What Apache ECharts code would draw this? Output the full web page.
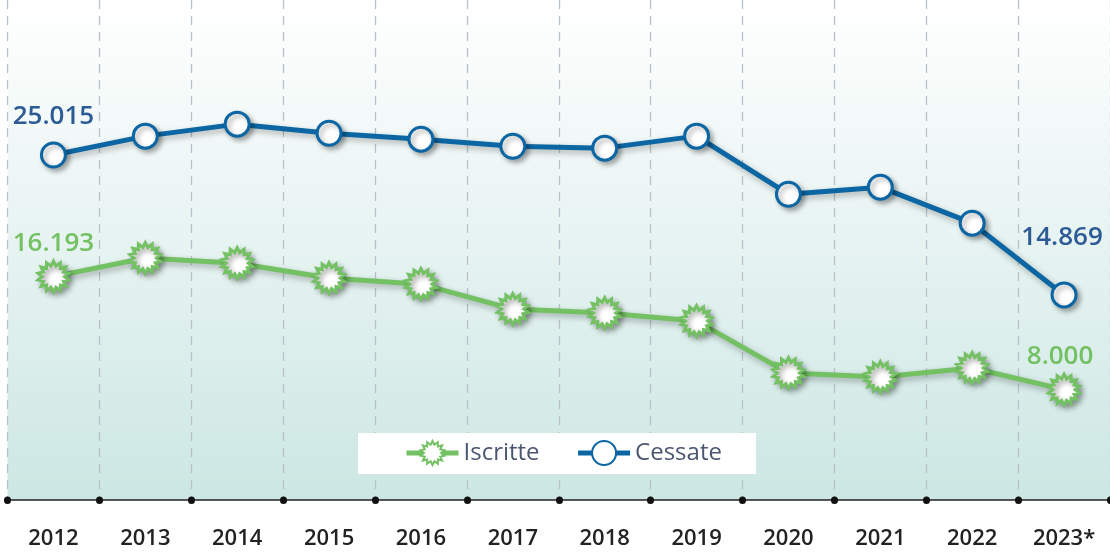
<!DOCTYPE html>
<html>
<head>
<meta charset="utf-8">
<script src="https://cdn.jsdelivr.net/npm/echarts@6/dist/echarts.min.js"></script>
<style>
  html, body { margin: 0; padding: 0; background: #fff; }
  #chart { width: 1110px; height: 552px; }
</style>
</head>
<body>
<div id="chart"></div>
<script>
// anni
const years = ['2012', '2013', '2014', '2015', '2016', '2017', '2018', '2019', '2020', '2021', '2022', '2023*']
// imprese iscritte
const iscritte = [16193, 17540, 17170, 16090, 15650, 13840, 13550, 12970, 9200, 8910, 9570, 8000]
// imprese cessate
const cessate = [25015, 26380, 27250, 26590, 26160, 25650, 25510, 26380, 22170, 22680, 20070, 14869]

const BLUE = '#0b66a3'
const GREEN = '#73c163'

// stella a punte per il simbolo "Iscritte"
function starPath(points, outer, inner) {
    let d = ''
    for (let i = 0; i < points * 2; i++) {
        const r = i % 2 === 0 ? outer : inner
        const a = Math.PI * i / points - Math.PI / 2
        d += (i === 0 ? 'M' : 'L') + (r * Math.cos(a)).toFixed(2) + ',' + (r * Math.sin(a)).toFixed(2)
    }
    return 'path://' + d + 'Z'
}
const STAR = starPath(14, 50, 35)

// separatore delle migliaia con il punto
const fmt = v => String(v).replace(/\B(?=(\d{3})+(?!\d))/g, '.')

// etichette solo sul primo e ultimo punto
function withLabels(values, color, first, last) {
    return values.map((v, i) => {
        if (i === 0) return { value: v, label: Object.assign({ show: true, color: color }, first) }
        if (i === values.length - 1) return { value: v, label: Object.assign({ show: true, color: color }, last) }
        return v
    })
}

const chart = echarts.init(document.getElementById('chart'))
const option = {
    animation: false,
    textStyle: { fontFamily: 'Open Sans' },
    grid: {
        left: 7.5, right: -5.5, top: 0, bottom: 52,
        show: true,
        borderWidth: 0,
        backgroundColor: new echarts.graphic.LinearGradient(0, 0, 0, 1, [
            { offset: 0, color: '#ffffff' },
            { offset: 1, color: '#cce7e3' }
        ])
    },
    legend: {
        left: 358, top: 433,
        backgroundColor: '#ffffff',
        padding: [7, 34, 8, 46],
        itemWidth: 52, itemHeight: 30, itemGap: 36,
        lineStyle: { width: 5 },
        textStyle: { fontSize: 24, color: '#4b5670', fontFamily: 'Open Sans' },
        data: ['Iscritte', 'Cessate']
    },
    xAxis: {
        type: 'category',
        data: years,
        boundaryGap: true,
        axisLine: { lineStyle: { color: '#222', width: 1.5 } },
        axisTick: { show: true, interval: 0, length: 0.5, lineStyle: { color: '#111', width: 7, cap: 'round' } },
        axisLabel: { interval: 0, margin: 28, fontSize: 22, fontWeight: 600, color: '#222' },
        splitLine: { show: true, interval: 0, lineStyle: { color: '#b9c1c8', width: 1.3, type: [9, 7] } }
    },
    yAxis: {
        type: 'value',
        min: 0, max: 36250,
        show: false,
        splitLine: { show: false }
    },
    series: [
        {
            name: 'Iscritte',
            type: 'line',
            data: withLabels(iscritte, GREEN,
                { position: 'top', distance: 3 },
                { position: 'top', distance: 3, offset: [-4, 0] }),
            symbol: STAR,
            symbolSize: 31,
            lineStyle: { color: GREEN, width: 5, shadowColor: 'rgba(0,0,0,0.3)', shadowBlur: 6, shadowOffsetX: 2, shadowOffsetY: 3 },
            itemStyle: { color: '#ffffff', borderColor: GREEN, borderWidth: 3, shadowColor: 'rgba(0,0,0,0.3)', shadowBlur: 5, shadowOffsetX: 3, shadowOffsetY: 3 },
            label: { show: false, fontSize: 26, fontWeight: 600, formatter: p => fmt(p.value) },
            z: 3
        },
        {
            name: 'Cessate',
            type: 'line',
            data: withLabels(cessate, '#2c5b95',
                { position: 'top', distance: 12 },
                { position: 'top', distance: 31, offset: [-2, 0] }),
            symbol: 'circle',
            symbolSize: 24,
            lineStyle: { color: BLUE, width: 5, shadowColor: 'rgba(0,0,0,0.3)', shadowBlur: 6, shadowOffsetX: 2, shadowOffsetY: 3 },
            itemStyle: { color: '#ffffff', borderColor: BLUE, borderWidth: 3, shadowColor: 'rgba(0,0,0,0.3)', shadowBlur: 5, shadowOffsetX: 3, shadowOffsetY: 3 },
            label: { show: false, fontSize: 26, fontWeight: 600, formatter: p => fmt(p.value) },
            z: 3
        }
    ]
}
chart.setOption(option)
</script>
</body>
</html>
